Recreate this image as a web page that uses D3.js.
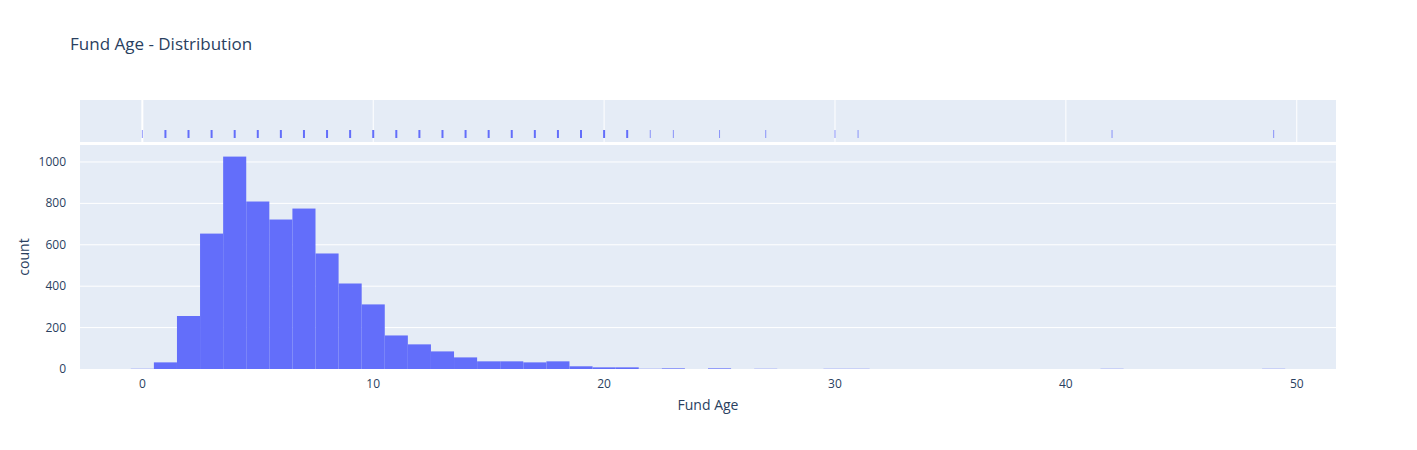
<!DOCTYPE html>
<html><head><meta charset="utf-8">
<script src="https://cdn.jsdelivr.net/npm/d3@7"></script>
<style>body{margin:0;background:#fff;font-family:"Open Sans",Arial,sans-serif;}</style>
</head><body>
<script>
// bins centred on integer ages
var ages = [0,1,2,3,4,5,6,7,8,9,10,11,12,13,14,15,16,17,18,19,20,21,22,23,25,27,30,31,42,49];
var counts = [1,32,256,654,1026,809,722,775,558,413,312,162,119,85,56,37,37,32,37,13,8,8,1,3,3,1,1,1,1,1];
var xTicks = [0,10,20,30,40,50];
var yTicks = [0,200,400,600,800,1000];

var W = 1417, H = 450;
var L = 80, R = 1336, mainTop = 145, mainBot = 369, rugTop = 100, rugBot = 142;
var fg = "#2a3f5f", bg = "#e5ecf6", bar = "#636efa";

var svg = d3.select("body").append("svg").attr("width", W).attr("height", H);

var x = d3.scaleLinear().domain([-2.7, 51.7]).range([L, R]);
var y = d3.scaleLinear().domain([0, 1082]).range([mainBot, mainTop]);

svg.append("rect").attr("x", L).attr("y", rugTop).attr("width", R - L).attr("height", rugBot - rugTop).attr("fill", bg);
svg.append("rect").attr("x", L).attr("y", mainTop).attr("width", R - L).attr("height", mainBot - mainTop).attr("fill", bg);

// rug vertical grid
svg.selectAll(".vg").data(xTicks).enter().append("line")
  .attr("x1", d => x(d)).attr("x2", d => x(d))
  .attr("y1", rugTop).attr("y2", rugBot)
  .attr("stroke", "#fff").attr("stroke-width", d => d === 0 ? 2 : 1);

// main horizontal grid
svg.selectAll(".hg").data(yTicks.slice(1)).enter().append("line")
  .attr("x1", L).attr("x2", R).attr("y1", d => y(d)).attr("y2", d => y(d))
  .attr("stroke", "#fff").attr("stroke-width", 1);

// bars
svg.selectAll(".bar").data(ages).enter().append("rect")
  .attr("x", d => x(d - 0.5)).attr("width", d => x(d + 0.5) - x(d - 0.5))
  .attr("y", (d, i) => y(counts[i])).attr("height", (d, i) => mainBot - y(counts[i]))
  .attr("fill", bar);

// rug ticks
svg.selectAll(".rug").data(ages).enter().append("line")
  .attr("x1", d => x(d)).attr("x2", d => x(d))
  .attr("y1", 130).attr("y2", 138)
  .attr("stroke", bar)
  .attr("stroke-width", (d, i) => counts[i] > 5 ? 2 : 1)
  .attr("opacity", (d, i) => counts[i] > 5 ? 1 : 0.7);

// axis labels
svg.selectAll(".xt").data(xTicks).enter().append("text")
  .attr("x", d => x(d)).attr("y", 388).attr("text-anchor", "middle")
  .attr("font-size", 12).attr("fill", fg).text(d => d);
svg.selectAll(".yt").data(yTicks).enter().append("text")
  .attr("x", 66).attr("y", d => y(d) + 4).attr("text-anchor", "end")
  .attr("font-size", 12).attr("fill", fg).text(d => d);

svg.append("text").attr("x", (L + R) / 2).attr("y", 410).attr("text-anchor", "middle")
  .attr("font-size", 14).attr("fill", fg).text("Fund Age");
svg.append("text").attr("transform", "translate(29," + ((mainTop + mainBot) / 2) + ") rotate(-90)")
  .attr("text-anchor", "middle").attr("font-size", 14).attr("fill", fg).text("count");
svg.append("text").attr("x", 70).attr("y", 50).attr("font-size", 17).attr("fill", fg)
  .text("Fund Age - Distribution");
</script>
</body></html>
